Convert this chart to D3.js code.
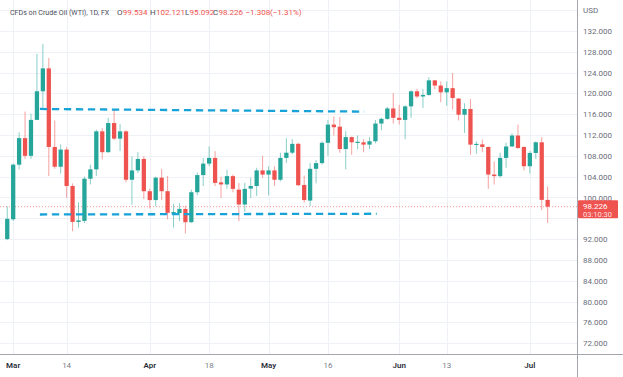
<!DOCTYPE html>
<html>
<head>
<meta charset="utf-8">
<script src="https://cdn.jsdelivr.net/npm/d3@7"></script>
<style>
  html, body { margin: 0; padding: 0; background: #ffffff; }
  svg { display: block; }
  text { font-family: Roboto, "Liberation Sans", sans-serif; }
</style>
</head>
<body>
<svg id="chart" width="623" height="377"></svg>
<script>
// ---------- DATA ----------
const startDate = "2022-02-28";
const endDate = "2022-07-06";
const holidays = ["2022-04-15"];

const open = [92.0,95.8,106.3,111.4,108.0,114.9,120.4,124.8,109.7,105.9,
  109.2,102.2,95.3,95.5,103.6,105.4,112.7,108.7,114.3,111.3,
  112.7,103.4,105.2,107.4,101.2,99.5,103.8,101.2,96.9,97.0,
  97.8,95.25,101.0,104.3,106.5,107.6,102.9,102.5,104.1,101.5,
  98.65,101.7,102.2,105.2,104.4,105.2,103.4,107.6,108.6,110.3,
  102.4,99.4,105.5,106.6,110.5,114.0,113.6,109.3,111.6,110.5,
  110.6,110.15,110.8,114.2,115.1,117.1,115.3,114.9,117.5,120.4,
  119.4,119.7,122.5,121.5,120.2,121.0,119.0,115.9,117.0,110.1,
  110.2,109.7,104.4,104.1,107.6,109.8,111.9,109.7,106.0,108.55,
  110.6,99.534];
const high = [98.3,106.5,112.5,116.5,116.1,127.6,129.5,126.8,114.8,110.2,
  109.7,102.7,99.1,104.0,106.3,113.0,113.3,115.3,116.9,114.1,
  112.9,107.9,108.7,107.9,101.7,104.0,105.5,104.1,98.8,98.9,
  98.4,101.5,104.8,107.6,109.8,108.9,104.0,105.3,104.4,102.8,
  102.8,103.8,105.7,108.0,106.0,106.0,108.6,111.4,111.2,110.5,
  104.2,106.6,107.2,110.8,114.9,115.6,115.5,112.7,111.7,111.9,
  111.2,111.6,114.9,115.3,117.4,120.05,117.8,117.7,120.6,120.9,
  120.8,123.1,122.6,122.3,122.3,123.9,119.1,118.1,118.9,110.8,
  111.1,109.8,106.9,108.6,110.5,112.3,114.0,109.8,108.9,110.8,
  111.6,102.121];
const low = [91.8,95.5,105.4,107.4,107.4,114.9,117.2,104.1,105.5,104.6,
  99.9,93.5,94.2,95.1,102.5,104.1,107.3,108.6,111.0,108.9,
  102.9,98.6,104.7,99.7,97.9,98.3,99.5,95.8,94.2,95.45,
  93.1,95.1,100.4,102.2,106.0,102.2,99.9,101.7,101.0,95.45,
  97.2,99.9,100.3,103.8,100.4,102.2,103.1,106.6,108.3,102.2,
  99.0,98.3,102.7,106.3,108.0,111.9,108.6,105.4,108.2,109.3,
  108.7,109.3,110.4,112.9,114.9,114.2,114.0,111.2,115.3,119.1,
  117.2,119.5,120.8,118.3,117.6,116.9,114.8,112.4,108.2,108.4,
  108.7,101.65,102.5,103.8,105.7,109.7,109.3,105.2,104.6,107.4,
  97.6,95.092];
const close = [95.9,106.3,111.4,108.0,114.9,120.4,124.8,109.7,105.9,109.2,
  102.2,95.3,95.6,103.6,105.4,112.7,108.7,114.3,111.3,112.7,
  103.4,105.2,107.4,101.2,99.5,103.8,101.2,97.05,97.2,97.8,
  95.25,101.0,104.3,106.5,107.6,102.8,102.5,104.1,101.65,98.65,
  101.65,102.2,105.2,104.4,105.2,103.4,107.6,108.6,110.3,102.35,
  99.5,105.5,106.6,110.5,114.0,113.5,109.3,111.6,110.6,110.7,
  110.15,110.8,114.2,115.1,117.1,115.3,114.9,117.5,120.4,119.4,
  119.7,122.5,121.5,120.2,121.0,119.1,115.9,117.0,110.15,110.3,
  109.7,104.4,104.1,107.6,109.8,111.9,109.5,106.0,108.55,110.6,
  99.534,98.226];

// 96.000 label sits under the last-price box, so it is not listed
const yTicks = [72,76,80,84,88,92,100,104,108,112,116,120,124,128,132];
const gridPrices = [72,76,80,84,88,92,96,100,104,108,112,116,120,124,128,132,136];
const xTickDates  = ["2022-03-01","2022-03-14","2022-04-01","2022-04-18","2022-05-02","2022-05-16","2022-06-01","2022-06-13","2022-07-01"];
const xTickLabels = ["Mar","14","Apr","18","May","16","Jun","13","Jul"];
const xTickMajor  = [true,false,true,false,true,false,true,false,true];

// drawn trend lines: [candle index, price]
const resistanceLine = [[5.5, 117.0], [60.1, 116.5]];
const supportLine    = [[5.5, 96.73], [62.2, 96.87]];

const lastPrice = 98.226;
const countdown = "03:10:30";
const headerTitle = "CFDs on Crude Oil (WTI), 1D, FX";
const headerKeys = ["O", "H", "L", "C"];
const headerVals = ["99.534", "102.121", "95.092", "98.226"];
const headerChg = "\u22121.308", headerPct = "(\u22121.31%)";
const currency = "USD";

// ---------- BUILD DATES ----------
const fmt = d3.utcFormat("%Y-%m-%d");
const dates = [];
for (let d = new Date(startDate + "T00:00:00Z"); fmt(d) <= endDate; d = new Date(d.getTime() + 86400000)) {
  const wd = d.getUTCDay();
  if (wd === 0 || wd === 6) continue;
  if (holidays.includes(fmt(d))) continue;
  dates.push(fmt(d));
}
const candles = dates.map((d, i) => ({date: d, i, o: open[i], h: high[i], l: low[i], c: close[i]}));

// ---------- LAYOUT ----------
const W = 623, H = 377;
const plotRight = 577, plotBottom = 354;
const GREEN = "#26a69a", RED = "#ef5350";

const svg = d3.select("#chart");

const x = d3.scaleBand().domain(dates).range([5.1, 549.8]).paddingInner(0.28).paddingOuter(0);
const xc = d => x(d) + x.bandwidth() / 2;
const xLin = d3.scaleLinear().domain([0, dates.length - 1]).range([xc(dates[0]), xc(dates[dates.length - 1])]);
const y = d3.scaleLinear().domain([72, 132]).range([343.2, 30.9]);

// grid
const grid = svg.append("g");
grid.selectAll("line.h").data(gridPrices).join("line")
  .attr("x1", 0).attr("x2", plotRight)
  .attr("y1", d => Math.round(y(d)) + 0.5).attr("y2", d => Math.round(y(d)) + 0.5)
  .attr("stroke", "#eef1f6").attr("stroke-width", 1);
grid.selectAll("line.v").data(xTickDates).join("line")
  .attr("x1", d => Math.round(xc(d)) + 0.5).attr("x2", d => Math.round(xc(d)) + 0.5)
  .attr("y1", 0).attr("y2", plotBottom)
  .attr("stroke", "#eef1f6").attr("stroke-width", 1);

// last price dotted line
svg.append("line")
  .attr("x1", 0).attr("x2", plotRight)
  .attr("y1", y(lastPrice)).attr("y2", y(lastPrice))
  .attr("stroke", RED).attr("stroke-opacity", 0.6).attr("stroke-width", 1)
  .attr("stroke-dasharray", "1,2");

// candles
const cg = svg.append("g");
cg.selectAll("line.wick").data(candles).join("line")
  .attr("x1", d => xc(d.date)).attr("x2", d => xc(d.date))
  .attr("y1", d => y(d.h)).attr("y2", d => y(d.l))
  .attr("stroke", d => d.c >= d.o ? GREEN : RED)
  .attr("stroke-opacity", 0.55)
  .attr("stroke-width", 1);
cg.selectAll("rect.body").data(candles).join("rect")
  .attr("x", d => x(d.date)).attr("width", x.bandwidth())
  .attr("y", d => y(Math.max(d.o, d.c)))
  .attr("height", d => Math.max(1.2, Math.abs(y(d.o) - y(d.c))))
  .attr("fill", d => d.c >= d.o ? GREEN : RED);

// trend lines
const lineGen = d3.line().x(d => xLin(d[0])).y(d => y(d[1]));
[resistanceLine, supportLine].forEach(l => {
  svg.append("path").attr("d", lineGen(l))
    .attr("fill", "none").attr("stroke", "#17a2d8").attr("stroke-width", 2.3)
    .attr("stroke-dasharray", "7.3,4.7");
});

// axes frame
svg.append("line").attr("x1", plotRight + 0.5).attr("x2", plotRight + 0.5).attr("y1", 0).attr("y2", H)
  .attr("stroke", "#a3a6af").attr("stroke-width", 1);
svg.append("line").attr("x1", 0).attr("x2", W).attr("y1", plotBottom + 0.5).attr("y2", plotBottom + 0.5)
  .attr("stroke", "#a3a6af").attr("stroke-width", 1);

// y axis
const yAxis = d3.axisRight(y).tickValues(yTicks).tickFormat(d3.format(".3f")).tickSize(0).tickPadding(6);
const yg = svg.append("g").attr("transform", `translate(${plotRight},0)`).call(yAxis);
yg.select(".domain").remove();
yg.selectAll("text").attr("font-size", "8px").attr("fill", "#6a6d78")
  .attr("font-family", "Roboto, 'Liberation Sans', sans-serif");

svg.append("text").attr("x", plotRight + 6).attr("y", 13).text(currency)
  .attr("font-size", "8px").attr("fill", "#6a6d78");

// x axis
const xAxis = d3.axisBottom(x).tickValues(xTickDates)
  .tickFormat(d => xTickLabels[xTickDates.indexOf(d)]).tickSize(0).tickPadding(8);
const xg = svg.append("g").attr("transform", `translate(0,${plotBottom})`).call(xAxis);
xg.select(".domain").remove();
xg.selectAll("text")
  .attr("font-family", "Roboto, 'Liberation Sans', sans-serif")
  .attr("font-size", "8px")
  .attr("fill", d => xTickMajor[xTickDates.indexOf(d)] ? "#2a2e39" : "#7b7e89")
  .attr("font-weight", d => xTickMajor[xTickDates.indexOf(d)] ? 600 : 400);

// last price box
const boxY = y(lastPrice);
svg.append("rect").attr("x", plotRight + 1).attr("y", boxY - 6.5).attr("width", 40).attr("height", 18)
  .attr("fill", RED).attr("rx", 1);
svg.append("text").attr("x", plotRight + 6).attr("y", boxY + 2.3).text(d3.format(".3f")(lastPrice))
  .attr("font-size", "8px").attr("fill", "#ffffff");
svg.append("text").attr("x", plotRight + 6).attr("y", boxY + 10).text(countdown)
  .attr("font-size", "7.5px").attr("fill", "#ffffff").attr("fill-opacity", 0.85);

// header
const DARK = "#4a4d57";
svg.append("text").attr("x", 10).attr("y", 15).attr("font-size", "7.1px").attr("fill", DARK).text(headerTitle);
const keyX = [117, 150, 185, 213];
headerKeys.forEach((k, i) => {
  const t = svg.append("text").attr("x", keyX[i]).attr("y", 15).attr("font-size", "8px");
  t.append("tspan").text(k).attr("fill", DARK);
  t.append("tspan").attr("dx", 0.3).text(headerVals[i]).attr("fill", RED);
});
svg.append("text").attr("x", 245.5).attr("y", 15).attr("font-size", "8px").attr("fill", RED).text(headerChg);
svg.append("text").attr("x", 270).attr("y", 15).attr("font-size", "8px").attr("fill", RED).text(headerPct);
</script>
</body>
</html>
